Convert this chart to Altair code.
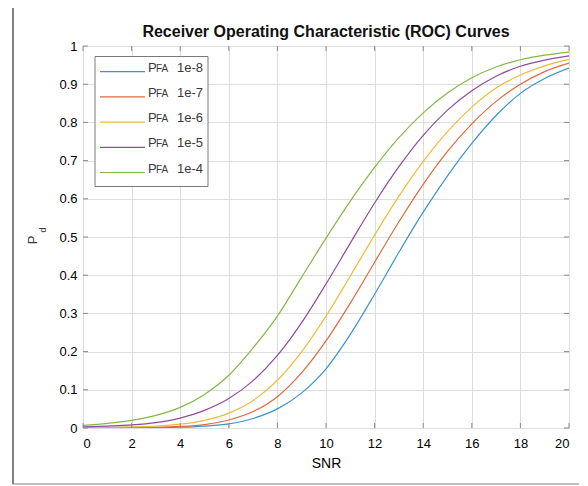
import altair as alt
import pandas as pd

# ---------------- data ----------------
snr = list(range(0, 21))
pd_1e8 = [0.0005, 0.0005, 0.0007, 0.001, 0.002, 0.005, 0.011, 0.025, 0.050, 0.092, 0.155,
          0.245, 0.350, 0.460, 0.565, 0.660, 0.745, 0.818, 0.876, 0.915, 0.942]
pd_1e7 = [0.001, 0.001, 0.0015, 0.002, 0.004, 0.009, 0.021, 0.043, 0.082, 0.145, 0.228,
          0.327, 0.434, 0.540, 0.638, 0.724, 0.796, 0.855, 0.900, 0.933, 0.955]
pd_1e6 = [0.001, 0.002, 0.003, 0.005, 0.010, 0.020, 0.039, 0.072, 0.125, 0.200, 0.293,
          0.398, 0.505, 0.607, 0.698, 0.776, 0.840, 0.890, 0.924, 0.948, 0.965]
pd_1e5 = [0.003, 0.005, 0.008, 0.014, 0.026, 0.046, 0.077, 0.124, 0.190, 0.276, 0.377,
          0.484, 0.589, 0.684, 0.766, 0.832, 0.883, 0.921, 0.947, 0.963, 0.974]
pd_1e4 = [0.007, 0.012, 0.020, 0.033, 0.054, 0.088, 0.138, 0.210, 0.293, 0.395, 0.497,
          0.594, 0.682, 0.760, 0.825, 0.877, 0.917, 0.945, 0.964, 0.976, 0.984]

series_labels = ["1e-8", "1e-7", "1e-6", "1e-5", "1e-4"]
series_values = [pd_1e8, pd_1e7, pd_1e6, pd_1e5, pd_1e4]
colors = ["#3a94d0", "#dd6a3c", "#efbb3a", "#8e4c9f", "#84b846"]

x_ticks = [0, 2, 4, 6, 8, 10, 12, 14, 16, 18, 20]
y_ticks = [0, 0.1, 0.2, 0.3, 0.4, 0.5, 0.6, 0.7, 0.8, 0.9, 1.0]

title_text = "Receiver Operating Characteristic (ROC) Curves"
x_title = "SNR"

# ---------------- build tables ----------------
rows = []
for lab, vals in zip(series_labels, series_values):
    for s, v in zip(snr, vals):
        rows.append({"SNR": s, "Pd": v, "series": lab})
df = pd.DataFrame(rows)

xt = pd.DataFrame({"SNR": x_ticks})
yt = pd.DataFrame({"Pd": y_ticks})
leg = pd.DataFrame({"i": list(range(len(series_labels))), "series": series_labels})
one = pd.DataFrame({"a": [0]})

W, H = 486, 382
FONT = "Liberation Sans"
AX = "#8a8a8a"
TXT = "#3a3a3a"

color_scale = alt.Scale(domain=series_labels, range=colors)
x_scale = alt.Scale(domain=[0, 20], nice=False, zero=False)
y_scale = alt.Scale(domain=[0, 1], nice=False)

x_axis = alt.Axis(values=x_ticks, title=x_title, grid=True, ticks=False,
                  domain=False, labelPadding=9, titlePadding=6,
                  labelFontSize=13, titleFontSize=14, titleFontWeight="normal")
y_axis = alt.Axis(values=y_ticks, title=None, grid=True, ticks=False,
                  domain=False, labelPadding=6, labelFontSize=13,
                  labelExpr="toString(round(datum.value*10)/10)")

X = alt.X("SNR:Q", scale=x_scale, axis=x_axis)
Y = alt.Y("Pd:Q", scale=y_scale, axis=y_axis)

lines = alt.Chart(df).mark_line(strokeWidth=1.2, clip=True, interpolate="monotone").encode(
    x=X, y=Y,
    color=alt.Color("series:N", scale=color_scale, legend=None),
    order="SNR:Q",
)

tick_b = alt.Chart(xt).mark_rule(color=AX).encode(x=X, y=alt.value(H - 5), y2=alt.value(H))
tick_t = alt.Chart(xt).mark_rule(color=AX).encode(x=X, y=alt.value(0), y2=alt.value(5))
tick_l = alt.Chart(yt).mark_rule(color=AX).encode(y=Y, x=alt.value(0), x2=alt.value(5))
tick_r = alt.Chart(yt).mark_rule(color=AX).encode(y=Y, x=alt.value(W - 5), x2=alt.value(W))

# chart title as a text mark above the plot
title_mark = alt.Chart(one).mark_text(text=title_text, fontSize=16, fontWeight="bold",
                                      font=FONT, color="#111111", align="center",
                                      baseline="alphabetic").encode(
    x=alt.value(W / 2), y=alt.value(-9))

# y-axis title P_d (with subscript)
ylab_p = alt.Chart(one).mark_text(text="P", angle=270, fontSize=13, font=FONT,
                                  color=TXT, align="center", baseline="alphabetic").encode(
    x=alt.value(-46), y=alt.value(194))
ylab_d = alt.Chart(one).mark_text(text="d", angle=270, fontSize=9, font=FONT,
                                  color=TXT, align="center", baseline="alphabetic").encode(
    x=alt.value(-37), y=alt.value(184))

# figure frame (left / bottom edges visible in the reference)
frame_l = alt.Chart(one).mark_rule(color="#000000", strokeWidth=1).encode(
    x=alt.value(-70), y=alt.value(-38), y2=alt.value(438))
frame_b = alt.Chart(one).mark_rule(color="#808080", strokeWidth=1).encode(
    x=alt.value(-70), x2=alt.value(W + 20), y=alt.value(438))

main = alt.layer(lines, tick_b, tick_t, tick_l, tick_r, title_mark, ylab_p, ylab_d,
                 frame_l, frame_b)

# ---------------- manual legend ----------------
row_y = alt.Y("i:Q", scale=alt.Scale(domain=[0, 4], range=[25.7, 25.7 + 4 * 25.2]), axis=None)
row_y_txt = alt.Y("i:Q", scale=alt.Scale(domain=[0, 4], range=[29.5, 29.5 + 4 * 25.2]), axis=None)
row_y_sub = alt.Y("i:Q", scale=alt.Scale(domain=[0, 4], range=[35.5, 35.5 + 4 * 25.2]), axis=None)

leg_box = alt.Chart(one).mark_rect(fill="white", stroke="#7a7a7a", strokeWidth=1).encode(
    x=alt.value(12), x2=alt.value(125), y=alt.value(10.5), y2=alt.value(140.5))
leg_line = alt.Chart(leg).mark_rule(strokeWidth=1.2).encode(
    x=alt.value(17), x2=alt.value(62), y=row_y,
    color=alt.Color("series:N", scale=color_scale, legend=None))
leg_p = alt.Chart(leg).mark_text(text="P", fontSize=13, font=FONT, color=TXT,
                                 align="left", baseline="alphabetic").encode(
    x=alt.value(65), y=row_y_txt)
leg_fa = alt.Chart(leg).mark_text(text="FA", fontSize=10, font=FONT, color=TXT,
                                  align="left", baseline="alphabetic").encode(
    x=alt.value(73), y=row_y_sub)
leg_val = alt.Chart(leg).mark_text(fontSize=13, font=FONT, color=TXT,
                                   align="left", baseline="alphabetic").encode(
    x=alt.value(94), y=row_y_txt, text="series:N")

legend = alt.layer(leg_box, leg_line, leg_p, leg_fa, leg_val)

chart = alt.layer(main, legend).resolve_scale(y="independent").resolve_axis(
    y="independent").properties(
    width=W, height=H,
    autosize=alt.AutoSizeParams(type="none"),
    padding={"left": 75, "top": 38, "right": 10, "bottom": 58},
).configure_view(stroke=AX, strokeWidth=1).configure_axis(
    labelFont=FONT, titleFont=FONT, labelColor=TXT, titleColor=TXT,
    gridColor="#e4e4e4", gridWidth=1,
).configure(background="white")

chart.save("out.html", embed_options={"renderer": "svg", "actions": False})
